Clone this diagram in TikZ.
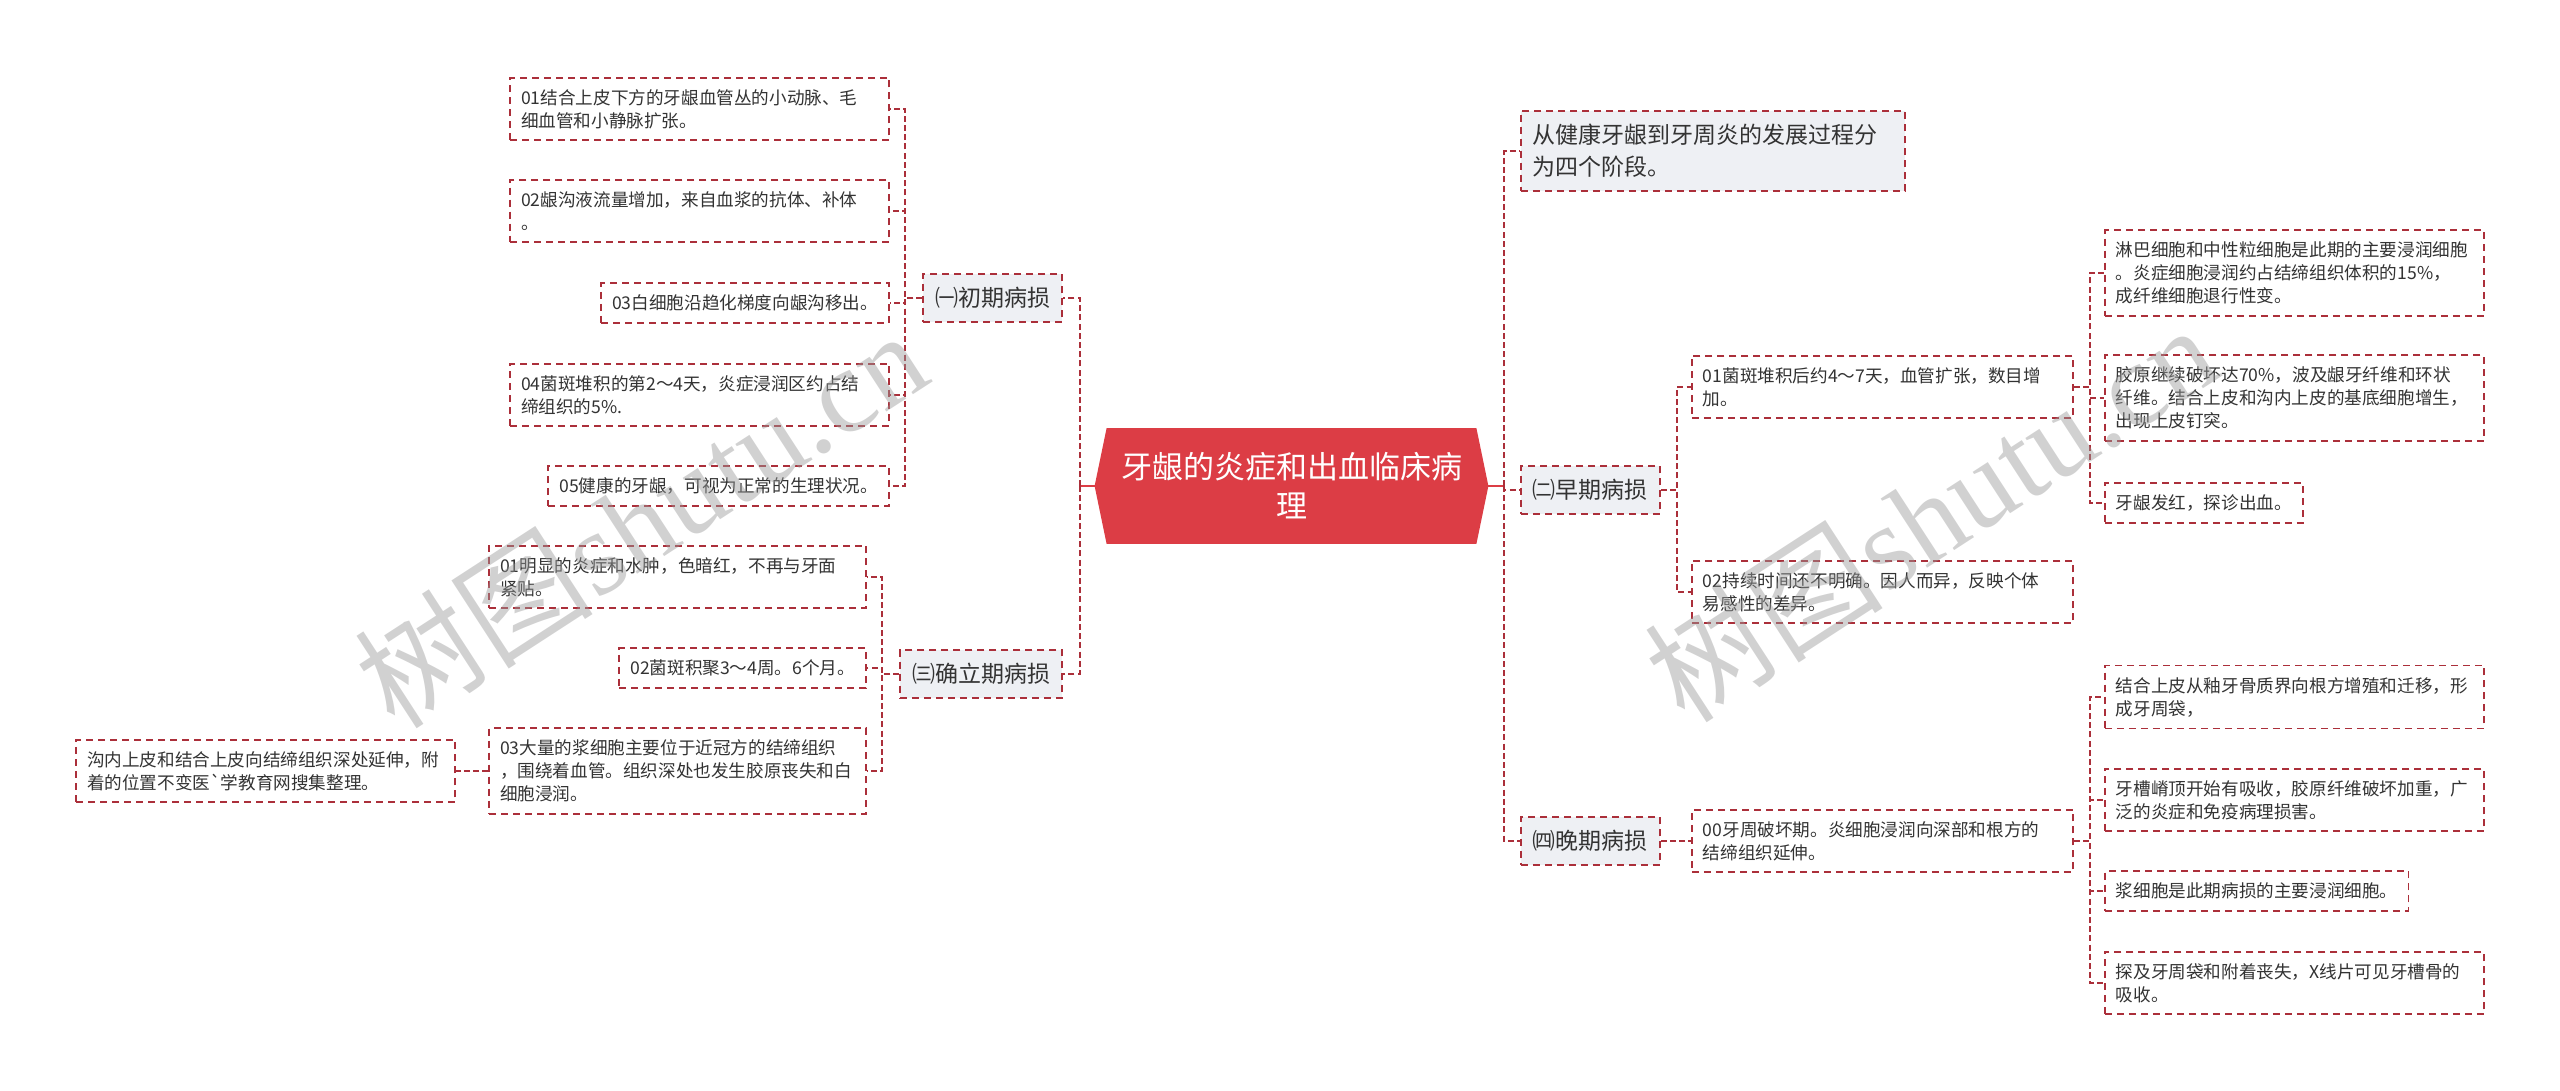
\documentclass[tikz,border=0pt]{standalone}
\usepackage{fontspec}
\setmainfont{Noto Sans CJK SC}
\newfontfamily\wmfont{Liberation Serif}
\usetikzlibrary{backgrounds}
\definecolor{mmRed}{HTML}{DC3D45}
\definecolor{mmLine}{HTML}{AB2F3A}
\definecolor{mmInk}{HTML}{333333}
\definecolor{mmFill}{HTML}{EEF0F4}
\definecolor{mmMark}{HTML}{9A9A9A}
\tikzset{
  topic/.style={
    minimum width=184.5pt, minimum height=57.5pt, inner sep=0pt,
    align=center, text=white, font=\fontsize{15.5pt}{19.5pt}\selectfont
  },
  leaf/.style={
    draw=mmLine, line width=0.9pt, dash pattern=on 3.5pt off 2.5pt,
    fill=white, text=mmInk, align=left, inner xsep=5.5pt, inner ysep=5.8pt,
    font=\fontsize{8.8pt}{11.5pt}\selectfont
  },
  branch/.style={leaf, fill=mmFill, inner xsep=6pt, inner ysep=6.7pt, font=\fontsize{11.5pt}{16pt}\selectfont},
  link/.style={draw=mmLine, line width=1pt, dash pattern=on 3pt off 1.6pt},
  rootlink/.style={draw=mmRed, line width=1.2pt},
  wm/.style={text=mmMark, text opacity=0.45, font=\fontsize{60pt}{60pt}\selectfont, rotate=33},
}
\begin{document}
\begin{tikzpicture}[x=0.5pt, y=-0.5pt]
  \useasboundingbox (0,0) rectangle (2560,1091);

  \node[topic] (root) at (1291.5,486) {牙龈的炎症和出血临床病\\理};
  \coordinate (rootL) at ([xshift=-6pt]root.west);
  \coordinate (rootR) at ([xshift=6pt]root.east);
  \begin{scope}[on background layer]
    \fill[mmRed] (root.north west) -- (root.north east) -- (rootR) -- (root.south east) -- (root.south west) -- (rootL) -- cycle;
  \end{scope}

  \node[branch, anchor=east] (b1) at (1063,298) {㈠初期病损};
  \node[branch, anchor=east] (b3) at (1063,674) {㈢确立期病损};
  \node[branch, anchor=west, text width=180pt] (n0) at (1520,151) {从健康牙龈到牙周炎的发展过程分\\为四个阶段。};
  \node[branch, anchor=west] (b2) at (1520,490) {㈡早期病损};
  \node[branch, anchor=west] (b4) at (1520,841) {㈣晚期病损};

  \node[leaf, anchor=east, text width=178.5pt] (c1) at (890,109) {01结合上皮下方的牙龈血管丛的小动脉、毛\\细血管和小静脉扩张。};
  \node[leaf, anchor=east, text width=178.5pt] (c2) at (890,211) {02龈沟液流量增加，来自血浆的抗体、补体\\。};
  \node[leaf, anchor=east] (c3) at (890,303) {03白细胞沿趋化梯度向龈沟移出。};
  \node[leaf, anchor=east, text width=178.5pt] (c4) at (890,395) {04菌斑堆积的第2～4天，炎症浸润区约占结\\缔组织的5\%.};
  \node[leaf, anchor=east] (c5) at (890,486) {05健康的牙龈，可视为正常的生理状况。};

  \node[leaf, anchor=east, text width=177.5pt] (d1) at (867,577) {01明显的炎症和水肿，色暗红，不再与牙面\\紧贴。};
  \node[leaf, anchor=east] (d2) at (867,668) {02菌斑积聚3～4周。6个月。};
  \node[leaf, anchor=east, text width=177.5pt] (d3) at (867,771) {03大量的浆细胞主要位于近冠方的结缔组织\\，围绕着血管。组织深处也发生胶原丧失和白\\细胞浸润。};
  \node[leaf, anchor=east, text width=178.5pt] (e1) at (456,771) {沟内上皮和结合上皮向结缔组织深处延伸，附\\着的位置不变医\textasciigrave 学教育网搜集整理。};

  \node[leaf, anchor=west, text width=179.5pt] (f1) at (1691,387) {01菌斑堆积后约4～7天，血管扩张，数目增\\加。};
  \node[leaf, anchor=west, text width=179.5pt] (f2) at (1691,592) {02持续时间还不明确。因人而异，反映个体\\易感性的差异。};
  \node[leaf, anchor=west, text width=178.5pt] (g1) at (2104,273) {淋巴细胞和中性粒细胞是此期的主要浸润细胞\\。炎症细胞浸润约占结缔组织体积的15\%，\\成纤维细胞退行性变。};
  \node[leaf, anchor=west, text width=178.5pt] (g2) at (2104,398) {胶原继续破坏达70\%，波及龈牙纤维和环状\\纤维。结合上皮和沟内上皮的基底细胞增生，\\出现上皮钉突。};
  \node[leaf, anchor=west] (g3) at (2104,503) {牙龈发红，探诊出血。};

  \node[leaf, anchor=west, text width=179.5pt] (h1) at (1691,841) {00牙周破坏期。炎细胞浸润向深部和根方的\\结缔组织延伸。};
  \node[leaf, anchor=west, text width=178.5pt] (i1) at (2104,697) {结合上皮从釉牙骨质界向根方增殖和迁移，形\\成牙周袋，};
  \node[leaf, anchor=west, text width=178.5pt] (i2) at (2104,800) {牙槽嵴顶开始有吸收，胶原纤维破坏加重，广\\泛的炎症和免疫病理损害。};
  \node[leaf, anchor=west] (i3) at (2104,891) {浆细胞是此期病损的主要浸润细胞。};
  \node[leaf, anchor=west, text width=178.5pt] (i4) at (2104,983) {探及牙周袋和附着丧失，X线片可见牙槽骨的\\吸收。};

  \draw[rootlink] (rootL) -- ++(-15,0) coordinate (lj);
  \draw[rootlink] (rootR) -- ++(16,0) coordinate (rj);
  \draw[link] (lj) |- (b1.east); \draw[link] (lj) |- (b3.east);
  \draw[link] (rj) |- (n0.west); \draw[link] (rj) |- (b2.west); \draw[link] (rj) |- (b4.west);

  \draw[link] (b1.west) -- ++(-17,0) |- (c1.east); \draw[link] (b1.west) -- ++(-17,0) |- (c2.east);
  \draw[link] (b1.west) -- ++(-17,0) |- (c3.east); \draw[link] (b1.west) -- ++(-17,0) |- (c4.east);
  \draw[link] (b1.west) -- ++(-17,0) |- (c5.east);
  \draw[link] (b3.west) -- ++(-17,0) |- (d1.east); \draw[link] (b3.west) -- ++(-17,0) |- (d2.east);
  \draw[link] (b3.west) -- ++(-17,0) |- (d3.east);
  \draw[link] (d3.west) -- (e1.east);

  \draw[link] (b2.east) -- ++(16,0) |- (f1.west); \draw[link] (b2.east) -- ++(16,0) |- (f2.west);
  \draw[link] (f1.east) -- ++(16,0) |- (g1.west); \draw[link] (f1.east) -- ++(16,0) |- (g2.west);
  \draw[link] (f1.east) -- ++(16,0) |- (g3.west);
  \draw[link] (b4.east) -- (h1.west);
  \draw[link] (h1.east) -- ++(16,0) |- (i1.west); \draw[link] (h1.east) -- ++(16,0) |- (i2.west);
  \draw[link] (h1.east) -- ++(16,0) |- (i3.west); \draw[link] (h1.east) -- ++(16,0) |- (i4.west);

  \node[wm] (w1) at (640,518) {树图{\wmfont shutu.cn}};
  \node[wm] (w2) at (1930,512) {树图{\wmfont shutu.cn}};
\end{tikzpicture}
\end{document}
